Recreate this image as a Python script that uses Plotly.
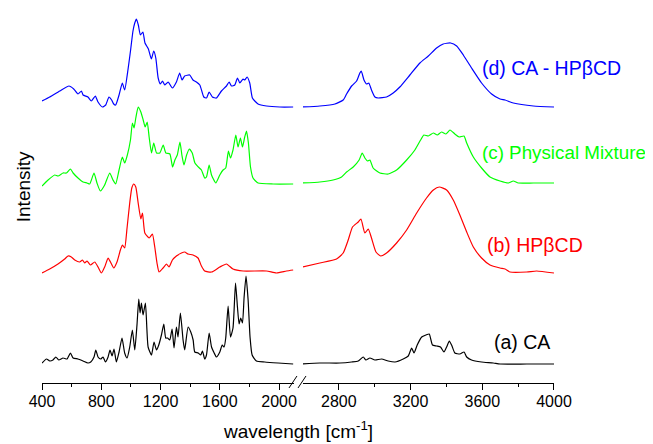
import plotly.graph_objects as go

# ---------------- data (wavenumber, intensity in arbitrary units, offsets included) -------------
d_left_wn = [400, 452, 520, 582, 614, 643, 666, 677, 710, 733, 760, 778, 808, 830, 852, 870, 884, 897,
             920, 942, 958, 980, 998, 1014, 1026, 1037, 1050, 1064, 1081, 1095, 1118, 1138, 1154, 1168,
             1184, 1199, 1213, 1228, 1251, 1280, 1307, 1329, 1345, 1363, 1397, 1419, 1442, 1465, 1492,
             1510, 1528, 1550, 1577, 1611, 1645, 1663, 1679, 1701, 1719, 1735, 1757, 1768, 1784, 1802,
             1820, 1858, 1915, 2005, 2095]
d_left_int = [282, 286, 292, 297, 294, 289, 292, 288, 286, 282, 287, 281, 276, 278, 286, 283, 279, 278,
              288, 300, 293, 313, 333, 352, 360, 364, 358, 348, 351, 340, 334, 324, 332, 325,
              305, 299, 302, 298, 301, 295, 301, 310, 303, 307, 308, 303, 301, 298, 286,
              285, 291, 286, 285, 292, 297, 301, 297, 298, 305, 300, 304, 303, 306, 300,
              285, 279, 277, 276, 276]
d_right_wn = [2597, 2694, 2778, 2824, 2843, 2871, 2899, 2917, 2925, 2940, 2955, 2967, 2982, 3001, 3019,
              3066, 3103, 3140, 3196, 3252, 3299, 3345, 3382, 3423, 3457, 3494, 3540, 3596, 3652, 3699,
              3727, 3773, 3885, 4000]
d_right_int = [276, 277, 279, 283, 289, 297, 302, 310, 312, 303, 299, 300, 293, 286, 285,
               286, 290, 296, 308, 320, 327, 335, 339, 340, 337, 328, 315, 300, 289, 284,
               283, 280, 277, 276]

c_left_wn = [400, 441, 486, 508, 542, 565, 592, 610, 643, 677, 704, 722, 751, 771, 794, 823, 857, 879,
             897, 920, 942, 958, 976, 997, 1010, 1021, 1033, 1049, 1067, 1083, 1096, 1110, 1123, 1139,
             1154, 1173, 1195, 1218, 1236, 1263, 1281, 1297, 1313, 1331, 1344, 1358, 1376, 1394, 1414,
             1432, 1455, 1476, 1498, 1510, 1528, 1544, 1573, 1600, 1622, 1640, 1658, 1672, 1689, 1708,
             1723, 1739, 1753, 1768, 1780, 1793, 1807, 1824, 1858, 1960, 2095]
c_left_int = [197, 203, 208, 207, 210, 210, 214, 210, 205, 201, 200, 199, 210, 200, 192, 198, 210, 203,
              199, 213, 226, 220, 228, 243, 260, 255, 265, 276, 271, 263, 256, 261, 246, 230,
              240, 230, 230, 238, 230, 229, 216, 223, 228, 241, 228, 218, 228, 234, 230,
              220, 216, 213, 205, 206, 218, 208, 200, 208, 213, 215, 232, 225, 233, 248,
              236, 245, 236, 246, 252, 240, 216, 205, 200, 199, 199]
c_right_wn = [2597, 2694, 2768, 2815, 2843, 2880, 2913, 2930, 2945, 2960, 2973, 2991, 3029, 3075, 3122,
              3178, 3224, 3256, 3274, 3299, 3327, 3349, 3373, 3397, 3420, 3447, 3471, 3498, 3513, 3550,
              3596, 3643, 3699, 3745, 3773, 3801, 3885, 4000]
c_right_int = [200, 201, 203, 206, 211, 216, 223, 230, 225, 222, 223, 215, 210, 209, 213,
               223, 233, 243, 248, 247, 250, 248, 251, 249, 253, 249, 246, 247, 240, 226,
               215, 206, 202, 200, 202, 200, 200, 200]

b_left_wn = [400, 452, 508, 553, 576, 598, 621, 654, 673, 688, 704, 727, 756, 778, 801, 823, 846, 862,
             884, 906, 929, 943, 958, 974, 992, 1006, 1019, 1033, 1049, 1067, 1078, 1094, 1123, 1145,
             1161, 1176, 1190, 1217, 1240, 1257, 1280, 1307, 1341, 1363, 1386, 1419, 1453, 1476, 1498,
             1544, 1600, 1645, 1689, 1757, 1915, 1982, 2050, 2095]
b_left_int = [110, 114, 119, 124, 127, 126, 123, 121, 123, 120, 122, 118, 121, 116, 110, 116, 125, 121,
              115, 121, 133, 138, 135, 155, 180, 195, 199, 196, 180, 164, 170, 150, 145, 149,
              136, 120, 111, 115, 119, 116, 123, 127, 130, 131, 129, 128, 125, 117, 112,
              111, 116, 119, 114, 112, 112, 110, 112, 113]
b_right_wn = [2597, 2694, 2787, 2824, 2852, 2876, 2908, 2923, 2945, 2964, 2982, 3007, 3033, 3066, 3122,
              3178, 3234, 3289, 3327, 3360, 3401, 3438, 3475, 3513, 3550, 3596, 3643, 3699, 3727, 3755,
              3848, 3903, 4000]
b_right_int = [116, 120, 124, 130, 143, 156, 161, 164, 150, 154, 145, 131, 127, 130, 140,
               153, 170, 185, 193, 196, 193, 183, 168, 151, 136, 125, 118, 115, 114, 111,
               111, 112, 110]

a_left_wn = [400, 430, 452, 474, 493, 513, 542, 569, 592, 610, 643, 677, 710, 729, 751, 763, 778, 796,
             812, 828, 846, 859, 873, 886, 902, 920, 940, 958, 974, 992, 1010, 1026, 1041, 1053, 1062,
             1071, 1082, 1098, 1116, 1139, 1156, 1173, 1188, 1206, 1222, 1235, 1247, 1262, 1278, 1291,
             1307, 1318, 1334, 1352, 1363, 1386, 1404, 1420, 1431, 1454, 1471, 1483, 1498, 1510, 1528,
             1544, 1562, 1577, 1600, 1616, 1629, 1640, 1656, 1672, 1689, 1706, 1719, 1730, 1741, 1753,
             1764, 1777, 1791, 1804, 1818, 1847, 1903, 1993, 2095]
a_left_int = [20, 24, 22, 23, 26, 23, 25, 24, 30, 25, 24, 22, 20, 21, 26, 33, 26, 24,
              26, 21, 26, 33, 27, 34, 21, 31, 45, 30, 25, 36, 53, 33, 58, 84, 70,
              80, 68, 80, 36, 28, 41, 33, 38, 48, 59, 45, 45, 43, 54, 35,
              56, 46, 70, 43, 33, 56, 51, 43, 31, 30, 28, 32, 24, 28, 50,
              36, 30, 26, 31, 38, 36, 45, 77, 46, 55, 100, 76, 59, 65, 60,
              86, 107, 83, 46, 28, 22, 21, 20, 19]
a_right_wn = [2597, 2694, 2806, 2871, 2908, 2936, 2951, 2973, 3001, 3038, 3075, 3113, 3159, 3187, 3206,
              3219, 3237, 3262, 3286, 3304, 3322, 3345, 3367, 3386, 3401, 3416, 3431, 3447, 3475, 3498,
              3513, 3540, 3596, 3661, 3699, 3848, 4000]
a_right_int = [19, 20, 20, 21, 22, 26, 23, 25, 23, 24, 22, 21, 24, 27, 35,
               30, 38, 46, 48, 49, 38, 37, 36, 31, 36, 42, 37, 30, 29, 31,
               26, 23, 21, 20, 19, 19, 19]

labels = ["(d) CA - HP\u03b2CD", "(c) Physical Mixture", "(b) HP\u03b2CD", "(a) CA"]
colors = ["#0000ff", "#00ff00", "#ff0000", "#000000"]
label_int = [315, 231, 138, 41]

left_tick_vals = [400, 800, 1200, 1600, 2000]
right_tick_vals = [2800, 3200, 3600, 4000]

# ---------------- figure ----------------
FONT = "Liberation Sans, Arial, sans-serif"
fig = go.Figure()

series = [
    (d_left_wn, d_left_int, d_right_wn, d_right_int),
    (c_left_wn, c_left_int, c_right_wn, c_right_int),
    (b_left_wn, b_left_int, b_right_wn, b_right_int),
    (a_left_wn, a_left_int, a_right_wn, a_right_int),
]
for (lx, ly, rx, ry), col in zip(series, colors):
    fig.add_trace(go.Scatter(x=lx, y=ly, mode="lines",
                             line=dict(color=col, width=1.2, shape="spline", smoothing=0.5),
                             xaxis="x", yaxis="y", showlegend=False, hoverinfo="skip"))
    fig.add_trace(go.Scatter(x=rx, y=ry, mode="lines",
                             line=dict(color=col, width=1.2, shape="spline", smoothing=0.5),
                             xaxis="x2", yaxis="y", showlegend=False, hoverinfo="skip"))

label_sizes = [19.5, 18.8, 19.5, 19.5]
for txt, col, yv, xp, fs in zip(labels, colors, label_int, [0.855, 0.855, 0.866, 0.878], label_sizes):
    fig.add_annotation(text=txt, x=xp, y=yv, xref="paper", yref="y", xanchor="left",
                       yanchor="middle", showarrow=False, font=dict(family=FONT, size=fs, color=col))

axis_common = dict(showline=True, linecolor="black", linewidth=1, ticks="outside", ticklen=6,
                   tickcolor="black", tickwidth=1, showgrid=False, zeroline=False, anchor="y",
                   ticklabelstandoff=-2,
                   tickfont=dict(family=FONT, size=16, color="black"))
fig.update_layout(
    width=645, height=436,
    margin=dict(l=34, r=99, t=2, b=61),
    paper_bgcolor="white", plot_bgcolor="white",
    xaxis=dict(domain=[0, 0.492], range=[400, 2100], tickvals=left_tick_vals,
               minor=dict(ticks="outside", ticklen=3, tickvals=[600, 1000, 1400, 1800], tickcolor="black"),
               **axis_common),
    xaxis2=dict(domain=[0.5098, 1], range=[2600, 4000], tickvals=right_tick_vals,
                minor=dict(ticks="outside", ticklen=3, tickvals=[3000, 3400, 3800], tickcolor="black"),
                **axis_common),
    yaxis=dict(visible=False, range=[0, 373]),
)

# axis break marks
for x0, x1 in [(0.4824, 0.498), (0.5, 0.5156)]:
    fig.add_shape(type="line", xref="paper", yref="paper", x0=x0, x1=x1, y0=-0.0134, y1=0.0188,
                  line=dict(color="black", width=1))

fig.add_annotation(text="wavelength [cm<sup>-1</sup>]", x=0.5, y=-0.127, xref="paper", yref="paper",
                   xanchor="center", yanchor="middle", showarrow=False,
                   font=dict(family=FONT, size=19, color="black"))
fig.add_annotation(text="Intensity", x=-0.037, y=0.525, xref="paper", yref="paper", textangle=-90,
                   xanchor="center", yanchor="middle", showarrow=False,
                   font=dict(family=FONT, size=19, color="black"))

fig.write_html("out.html")
